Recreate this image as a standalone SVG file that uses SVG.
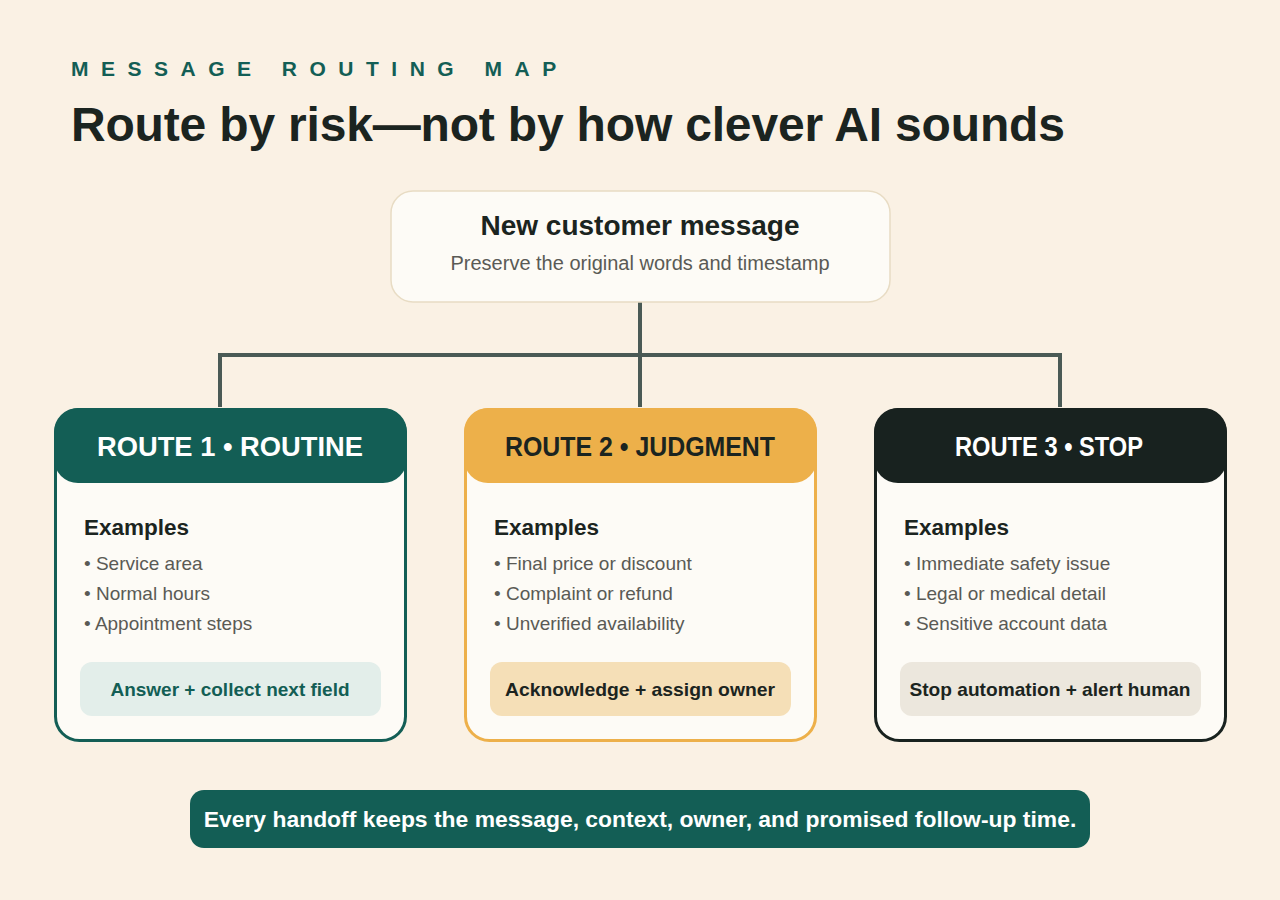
<svg xmlns="http://www.w3.org/2000/svg" width="1280" height="900" viewBox="0 0 1280 900">
<defs>
<style>
text{font-family:"Liberation Sans",Arial,sans-serif}
.eyebrow{font-size:21px;font-weight:700;fill:#135E55;letter-spacing:12.5px}
.title{font-size:48px;font-weight:700;fill:#1B2420;letter-spacing:-0.18px}
.ntitle{font-size:28px;font-weight:700;fill:#1B2420;text-anchor:middle}
.nsub{font-size:20px;fill:#5A5A55;text-anchor:middle}
.conn{fill:none;stroke:#4A5A55;stroke-width:4}
.card{fill:#FDFBF6;stroke-width:3}
.htext{font-size:27.5px;font-weight:700;text-anchor:middle}
.ex{font-size:22.5px;font-weight:700;fill:#1B2420}
.bul{font-size:19px;fill:#5A5A55}
.act{font-size:19px;font-weight:700;text-anchor:middle}
.banner{font-size:22.9px;font-weight:700;fill:#FFFFFF;text-anchor:middle}
</style>
</defs>
<rect width="1280" height="900" fill="#FAF1E4"/>
<text class="eyebrow" x="71" y="76">MESSAGE ROUTING MAP</text>
<text class="title" x="71" y="141">Route by risk—not by how clever AI sounds</text>

<g id="connectors">
<path class="conn" d="M640 302 V407 M220 407 V355 H1060 V407"/>
</g>

<g id="start">
<rect x="391" y="191" width="499" height="111" rx="22" fill="#FDFBF6" stroke="#E8DCC4" stroke-width="1.5"/>
<text class="ntitle" x="640" y="235">New customer message</text>
<text class="nsub" x="640" y="270">Preserve the original words and timestamp</text>
</g>

<g id="route1">
<rect class="card" x="55.5" y="409.5" width="350" height="331" rx="24" stroke="#135E55"/>
<rect x="54" y="408" width="353" height="75" rx="24" fill="#135E55"/>
<text class="htext" x="230" y="456" fill="#FFFFFF" textLength="266" lengthAdjust="spacingAndGlyphs">ROUTE 1 • ROUTINE</text>
<text class="ex" x="84" y="535">Examples</text>
<text class="bul" x="84" y="570">• Service area</text>
<text class="bul" x="84" y="600">• Normal hours</text>
<text class="bul" x="84" y="630">• Appointment steps</text>
<rect x="80" y="662" width="301" height="54" rx="12" fill="#E3EEEA"/>
<text class="act" x="230" y="696" fill="#135E55">Answer + collect next field</text>
</g>

<g id="route2">
<rect class="card" x="465.5" y="409.5" width="350" height="331" rx="24" stroke="#EDB04A"/>
<rect x="464" y="408" width="353" height="75" rx="24" fill="#EDB04A"/>
<text class="htext" x="640" y="456" fill="#1B2420" textLength="270" lengthAdjust="spacingAndGlyphs">ROUTE 2 • JUDGMENT</text>
<text class="ex" x="494" y="535">Examples</text>
<text class="bul" x="494" y="570">• Final price or discount</text>
<text class="bul" x="494" y="600">• Complaint or refund</text>
<text class="bul" x="494" y="630">• Unverified availability</text>
<rect x="490" y="662" width="301" height="54" rx="12" fill="#F5DFB7"/>
<text class="act" x="640" y="696" fill="#1B2420" textLength="270" lengthAdjust="spacingAndGlyphs">Acknowledge + assign owner</text>
</g>

<g id="route3">
<rect class="card" x="875.5" y="409.5" width="350" height="331" rx="24" stroke="#18221F"/>
<rect x="874" y="408" width="353" height="75" rx="24" fill="#18221F"/>
<text class="htext" x="1049" y="456" fill="#FFFFFF" textLength="188" lengthAdjust="spacingAndGlyphs">ROUTE 3 • STOP</text>
<text class="ex" x="904" y="535">Examples</text>
<text class="bul" x="904" y="570">• Immediate safety issue</text>
<text class="bul" x="904" y="600">• Legal or medical detail</text>
<text class="bul" x="904" y="630">• Sensitive account data</text>
<rect x="900" y="662" width="301" height="54" rx="12" fill="#ECE7DD"/>
<text class="act" x="1050" y="696" fill="#1B2420" textLength="281" lengthAdjust="spacingAndGlyphs">Stop automation + alert human</text>
</g>

<g id="banner">
<rect x="190" y="790" width="900" height="58" rx="14" fill="#135E55"/>
<text class="banner" x="640" y="827">Every handoff keeps the message, context, owner, and promised follow-up time.</text>
</g>
</svg>
